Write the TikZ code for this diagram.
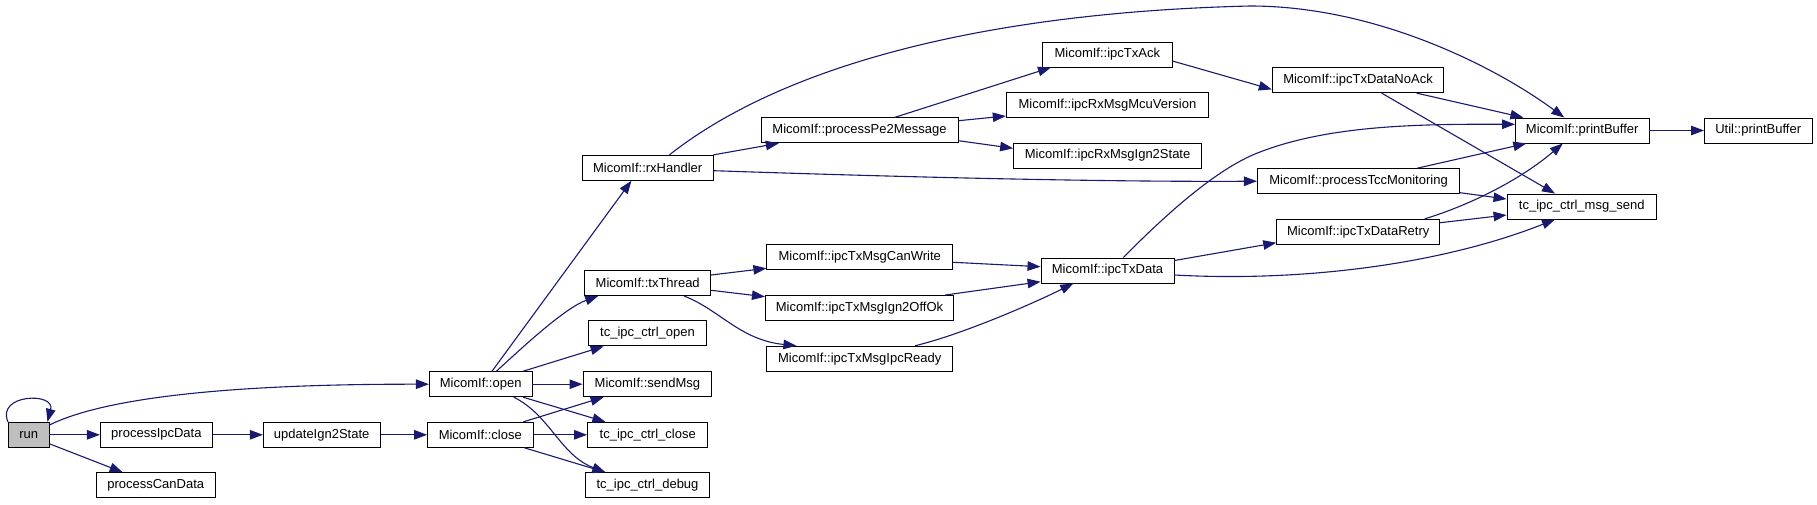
\documentclass[tikz,border=0pt]{standalone}
\usepackage{fontspec}
\setmainfont{Liberation Sans}
\usetikzlibrary{arrows.meta}
\definecolor{edgeblue}{HTML}{191970}
\definecolor{curgray}{HTML}{BFBFBF}
\begin{document}
\begin{tikzpicture}[x=1pt,y=-1pt,
  fn/.style={draw=black, fill=white, line width=0.9pt, inner sep=0pt, minimum height=25pt, font=\fontsize{13}{15}\selectfont},
  cur/.style={fn, fill=curgray},
  call/.style={draw=edgeblue, line width=1.1pt, -{Triangle[length=13pt,width=9.5pt]}}]
\useasboundingbox[fill=white] (0,0) rectangle (1817,504);

% nodes
\node[cur, minimum width=40.6pt] (run) at (28.7,434.8) {run};
\node[fn, minimum width=112pt] (pipc) at (156.4,434.8) {processIpcData};
\node[fn, minimum width=118.6pt] (pcan) at (155.7,485.2) {processCanData};
\node[fn, minimum width=116.7pt] (upd) at (321.7,434.8) {updateIgn2State};
\node[fn, minimum width=105.5pt] (close) at (480.3,434.8) {MicomIf::close};
\node[fn, minimum width=102.6pt] (open) at (480.7,384.2) {MicomIf::open};
\node[fn, minimum width=126pt] (tx) at (647.7,283) {MicomIf::txThread};
\node[fn, minimum width=117.8pt] (copen) at (647.5,333.4) {tc\_ipc\_ctrl\_open};
\node[fn, minimum width=128.8pt] (send) at (647.4,384.2) {MicomIf::sendMsg};
\node[fn, minimum width=120.4pt] (cclose) at (647.7,434.8) {tc\_ipc\_ctrl\_close};
\node[fn, minimum width=124.2pt] (cdebug) at (647.5,485.2) {tc\_ipc\_ctrl\_debug};
\node[fn, minimum width=130.7pt] (rx) at (647.7,167.8) {MicomIf::rxHandler};
\node[fn, minimum width=197pt] (pe2) at (859.5,130.3) {MicomIf::processPe2Message};
\node[fn, minimum width=185.7pt] (canw) at (859.7,257.3) {MicomIf::ipcTxMsgCanWrite};
\node[fn, minimum width=188.2pt] (ign) at (859.5,308) {MicomIf::ipcTxMsgIgn2OffOk};
\node[fn, minimum width=185.7pt] (ready) at (859.7,358.7) {MicomIf::ipcTxMsgIpcReady};
\node[fn, minimum width=129.4pt] (ack) at (1107.3,54.5) {MicomIf::ipcTxAck};
\node[fn, minimum width=202.3pt] (mcu) at (1107.4,105) {MicomIf::ipcRxMsgMcuVersion};
\node[fn, minimum width=188pt] (rign) at (1107.6,155.5) {MicomIf::ipcRxMsgIgn2State};
\node[fn, minimum width=133pt] (txd) at (1107.5,270.5) {MicomIf::ipcTxData};
\node[fn, minimum width=171.5pt] (noack) at (1358,80.2) {MicomIf::ipcTxDataNoAck};
\node[fn, minimum width=202.2pt] (tcc) at (1358.5,181.2) {MicomIf::processTccMonitoring};
\node[fn, minimum width=163pt] (retry) at (1358.2,231.8) {MicomIf::ipcTxDataRetry};
\node[fn, minimum width=133.5pt] (pbuf) at (1582.2,130.5) {MicomIf::printBuffer};
\node[fn, minimum width=149.6pt] (msend) at (1581.8,206.5) {tc\_ipc\_ctrl\_msg\_send};
\node[fn, minimum width=107.5pt] (upbuf) at (1758.2,130.5) {Util::printBuffer};

% edges
\draw[call] (run.north west) .. controls +(-12,-28) and +(8,-30) .. ([xshift=-2pt]run.north east);
\draw[call] ([yshift=9.8pt]run.east) .. controls (110,395) and (250,384) .. (open.west);
\draw[call] (run.east) -- (pipc.west);
\draw[call] ([yshift=-9pt]run.east) -- ([xshift=-33pt]pcan.north);
\draw[call] (pipc.east) -- (upd.west);
\draw[call] (upd.east) -- (close.west);

\draw[call] ([xshift=11.3pt]open.north) -- ([xshift=-16.3pt]rx.south);
\draw[call] ([xshift=15.7pt]open.north) .. controls (525,345) and (565,308) .. ([xshift=-49.5pt]tx.south);
\draw[call] ([xshift=42.3pt]open.north) -- ([xshift=-43.9pt]copen.south);
\draw[call] (open.east) -- (send.west);
\draw[call] ([xshift=42.3pt]open.south) -- ([xshift=-42.3pt]cclose.north);
\draw[call] ([xshift=33pt]open.south) .. controls (550,415) and (560,455) .. ([xshift=-42.1pt]cdebug.north);

\draw[call] ([xshift=43pt]close.north) -- ([xshift=-43.8pt]send.south);
\draw[call] (close.east) -- (cclose.west);
\draw[call] ([xshift=44pt]close.south) -- ([xshift=-42.1pt]cdebug.north);

\draw[call] ([xshift=21.7pt]rx.north) .. controls (790,60) and (1000,12) .. (1250,6) .. controls (1380,6) and (1500,70) .. ([xshift=-18pt]pbuf.north);
\draw[call] (rx.north east) -- ([xshift=-80.7pt]pe2.south);
\draw[call] ([yshift=-2.9pt]rx.east) .. controls (900,177) and (1100,182) .. (tcc.west);

\draw[call] ([xshift=35.3pt]pe2.north) -- ([xshift=-56.3pt]ack.south);
\draw[call] ([yshift=9.6pt]pe2.east) -- ([yshift=-11pt]mcu.west);
\draw[call] ([yshift=-10.4pt]pe2.east) -- ([yshift=7.2pt]rign.west);

\draw[call] ([yshift=-6.5pt]ack.east) -- ([yshift=-9.2pt]noack.west);
\draw[call] ([xshift=58.7pt]noack.south) -- ([xshift=-58.8pt]pbuf.north);
\draw[call] ([xshift=23.7pt]noack.south) -- ([xshift=-26.8pt]msend.north);

\draw[call] ([xshift=58.5pt]tcc.north) -- ([xshift=-55.9pt]pbuf.south);
\draw[call] ([yshift=-11.5pt]tcc.east) -- ([yshift=7.5pt]msend.west);

\draw[call] ([yshift=8pt]tx.east) -- ([yshift=-11pt]canw.west);
\draw[call] ([yshift=-7.3pt]tx.east) -- ([yshift=11.3pt]ign.west);
\draw[call] ([xshift=36.3pt]tx.south) .. controls (720,310) and (740,340) .. ([xshift=-63.3pt]ready.north);

\draw[call] ([yshift=-5pt]canw.east) -- ([yshift=3.8pt]txd.west);
\draw[call] ([xshift=85.5pt]ign.north) -- ([yshift=-11.2pt]txd.west);
\draw[call] ([xshift=55.3pt]ready.north) .. controls (960,335) and (1030,305) .. ([xshift=-34.2pt]txd.south);

\draw[call] ([xshift=15.8pt]txd.north) .. controls (1180,200) and (1225,165) .. (1260,152) .. controls (1330,125) and (1420,124) .. ([yshift=6.2pt]pbuf.west);
\draw[call] ([yshift=10pt]txd.east) -- ([yshift=2pt]retry.south west);
\draw[call] ([yshift=-4.5pt]txd.east) .. controls (1300,282) and (1440,265) .. ([xshift=-26.8pt]msend.south);

\draw[call] ([xshift=66.5pt]retry.north) .. controls (1470,205) and (1520,180) .. ([xshift=-19.4pt]pbuf.south);
\draw[call] ([yshift=9.1pt]retry.east) -- ([yshift=-8.5pt]msend.west);

\draw[call] (pbuf.east) -- (upbuf.west);
\end{tikzpicture}
\end{document}
